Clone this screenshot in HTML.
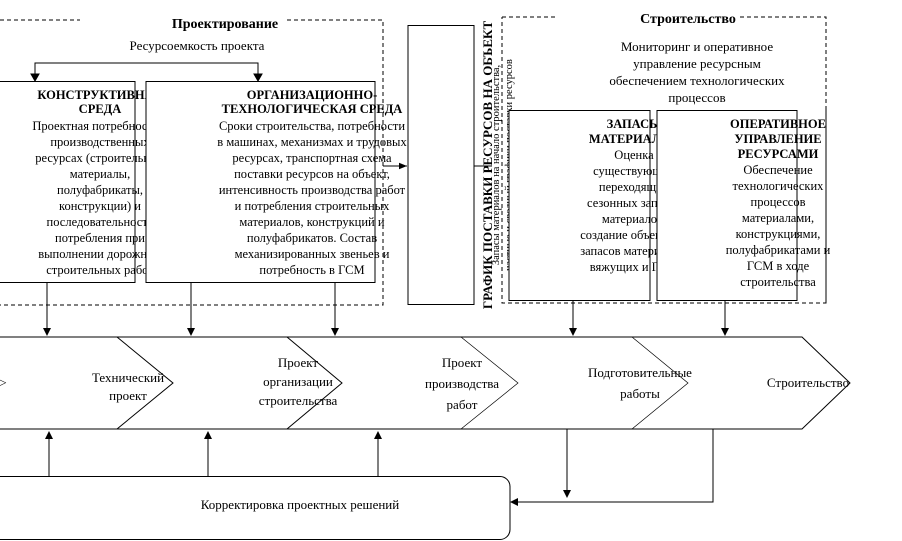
<!DOCTYPE html>
<html><head><meta charset="utf-8"><style>
html,body{margin:0;padding:0;background:#fff;width:902px;height:541px;overflow:hidden}
svg{display:block}
text{font-family:"Liberation Serif","DejaVu Serif",serif;fill:#000}
</style></head><body>
<svg width="902" height="541" viewBox="0 0 902 541" xmlns="http://www.w3.org/2000/svg">
<defs>
<marker id="a" viewBox="0 0 10 10" refX="10" refY="5" markerWidth="8" markerHeight="8" orient="auto"><path d="M0,1 L10,5 L0,9 z" fill="#000"/></marker>
</defs>
<g stroke="#000" stroke-width="1" fill="none">
<polyline points="35,80 35,63 258,63 258,80"/>
<path d="M31,74 L35,81 L39,74 z M254,74 L258,81 L262,74 z" fill="#000"/>
</g>
<rect x="-1" y="81.5" width="136" height="201" fill="#fff" stroke="#000"/>
<g font-size="12.5" text-anchor="middle">
<text x="100" y="99" font-weight="bold">КОНСТРУКТИВНАЯ</text>
<text x="100" y="113" font-weight="bold">СРЕДА</text>
<text x="100" y="130">Проектная потребность в</text>
<text x="100" y="146">производственных</text>
<text x="100" y="162">ресурсах (строительных</text>
<text x="100" y="178">материалы,</text>
<text x="100" y="194">полуфабрикаты,</text>
<text x="100" y="210">конструкции) и</text>
<text x="100" y="226">последовательность</text>
<text x="100" y="242">потребления при</text>
<text x="100" y="258">выполнении дорожных</text>
<text x="100" y="274">строительных работ</text>
</g>
<rect x="146" y="81.5" width="229" height="201" fill="#fff" stroke="#000"/>
<g font-size="12.5" text-anchor="middle">
<text x="312" y="99" font-weight="bold">ОРГАНИЗАЦИОННО-</text>
<text x="312" y="113" font-weight="bold">ТЕХНОЛОГИЧЕСКАЯ СРЕДА</text>
<text x="312" y="130">Сроки строительства,  потребности</text>
<text x="312" y="146">в машинах, механизмах и трудовых</text>
<text x="312" y="162">ресурсах, транспортная схема</text>
<text x="312" y="178">поставки ресурсов на объект,</text>
<text x="312" y="194">интенсивность производства работ</text>
<text x="312" y="210">и потребления строительных</text>
<text x="312" y="226">материалов, конструкций и</text>
<text x="312" y="242">полуфабрикатов. Состав</text>
<text x="312" y="258">механизированных звеньев и</text>
<text x="312" y="274">потребность в ГСМ</text>
</g>
<rect x="408" y="25.5" width="66" height="279" fill="#fff" stroke="#000"/>
<line x1="383" y1="166" x2="407" y2="166" stroke="#000" marker-end="url(#a)"/>
<line x1="474" y1="166" x2="492" y2="166" stroke="#000"/>
<text transform="translate(492,165) rotate(-90)" font-size="13" font-weight="bold" text-anchor="middle">ГРАФИК ПОСТАВКИ РЕСУРСОВ НА ОБЪЕКТ</text>
<text transform="translate(499,165) rotate(-90)" font-size="10.5" text-anchor="middle">Запасы материалов на начало строительства,</text>
<text transform="translate(512,165) rotate(-90)" font-size="10.5" text-anchor="middle">частные и сводный графики поставки ресурсов</text>
<g stroke="#000" stroke-dasharray="4,3" fill="none">
<polyline points="0,20 383,20 383,305 0,305"/>
<polyline points="502,17 826,17 826,303 502,303 502,17"/>
</g>
<rect x="80" y="12" width="205" height="16" fill="#fff"/>
<rect x="557" y="10" width="183" height="14" fill="#fff"/>
<g text-anchor="middle">
<text x="225" y="28" font-size="14" font-weight="bold">Проектирование</text>
<text x="197" y="50" font-size="13">Ресурсоемкость проекта</text>
<text x="688" y="23" font-size="14" font-weight="bold">Строительство</text>
<text x="697" y="51" font-size="13">Мониторинг и оперативное</text>
<text x="697" y="68" font-size="13">управление ресурсным</text>
<text x="697" y="85" font-size="13">обеспечением технологических</text>
<text x="697" y="102" font-size="13">процессов</text>
</g>
<rect x="509" y="110.5" width="141" height="190" fill="#fff" stroke="#000"/>
<g font-size="12.5" text-anchor="middle">
<text x="634" y="128" font-weight="bold">ЗАПАСЫ</text>
<text x="634" y="143" font-weight="bold">МАТЕРИАЛОВ</text>
<text x="634" y="159">Оценка</text>
<text x="634" y="175">существующих</text>
<text x="634" y="191">переходящих</text>
<text x="634" y="207">сезонных запасов</text>
<text x="634" y="223">материалов,</text>
<text x="634" y="239">создание объектных</text>
<text x="634" y="255">запасов материалов,</text>
<text x="634" y="271">вяжущих и ГСМ</text>
</g>
<rect x="657" y="110.5" width="140" height="190" fill="#fff" stroke="#000"/>
<g font-size="12.5" text-anchor="middle">
<text x="778" y="128" font-weight="bold">ОПЕРАТИВНОЕ</text>
<text x="778" y="143" font-weight="bold">УПРАВЛЕНИЕ</text>
<text x="778" y="158" font-weight="bold">РЕСУРСАМИ</text>
<text x="778" y="174">Обеспечение</text>
<text x="778" y="190">технологических</text>
<text x="778" y="206">процессов</text>
<text x="778" y="222">материалами,</text>
<text x="778" y="238">конструкциями,</text>
<text x="778" y="254">полуфабрикатами и</text>
<text x="778" y="270">ГСМ в ходе</text>
<text x="778" y="286">строительства</text>
</g>
<line x1="826" y1="110" x2="826" y2="303" stroke="#000" stroke-dasharray="4,3"/>
<g stroke="#000">
<line x1="47" y1="283" x2="47" y2="334"/>
<line x1="191" y1="283" x2="191" y2="334"/>
<line x1="335" y1="283" x2="335" y2="334"/>
<line x1="573" y1="300" x2="573" y2="334"/>
<line x1="725" y1="300" x2="725" y2="334"/>
</g>
<g fill="#000">
<path d="M43,328 L47,336 L51,328z M187,328 L191,336 L195,328z M331,328 L335,336 L339,328z M569,328 L573,336 L577,328z M721,328 L725,336 L729,328z"/>
</g>
<g stroke="#000" fill="none">
<polyline points="0,337 802,337 850,383 802,429 0,429"/>
<polyline points="117,337 173,383 117,429"/>
<polyline points="287,337 342,383 287,429"/>
<polyline points="461,337 518,383 461,429" stroke-width="0.7"/>
<polyline points="632,337 688,383 632,429" stroke-width="0.7"/>
</g>
<g font-size="13" text-anchor="middle">
<text x="3" y="387">&gt;</text>
<text x="128" y="382">Технический</text>
<text x="128" y="400">проект</text>
<text x="298" y="367">Проект</text>
<text x="298" y="386">организации</text>
<text x="298" y="405">строительства</text>
<text x="462" y="367">Проект</text>
<text x="462" y="388">производства</text>
<text x="462" y="409">работ</text>
<text x="640" y="377">Подготовительные</text>
<text x="640" y="398">работы</text>
<text x="808" y="387">Строительство</text>
</g>
<rect x="-10" y="476.5" width="520" height="63" rx="10" fill="#fff" stroke="#000"/>
<text x="300" y="509" font-size="13" text-anchor="middle">Корректировка  проектных решений</text>
<g stroke="#000">
<line x1="49" y1="476" x2="49" y2="433"/>
<line x1="208" y1="476" x2="208" y2="433"/>
<line x1="378" y1="476" x2="378" y2="433"/>
<line x1="567" y1="429" x2="567" y2="496"/>
<polyline points="713,429 713,502 513,502" fill="none"/>
</g>
<path d="M45,439 L49,431 L53,439z M204,439 L208,431 L212,439z M374,439 L378,431 L382,439z M563,490 L567,498 L571,490z M518,498 L510,502 L518,506z" fill="#000"/>
</svg>
</body></html>
